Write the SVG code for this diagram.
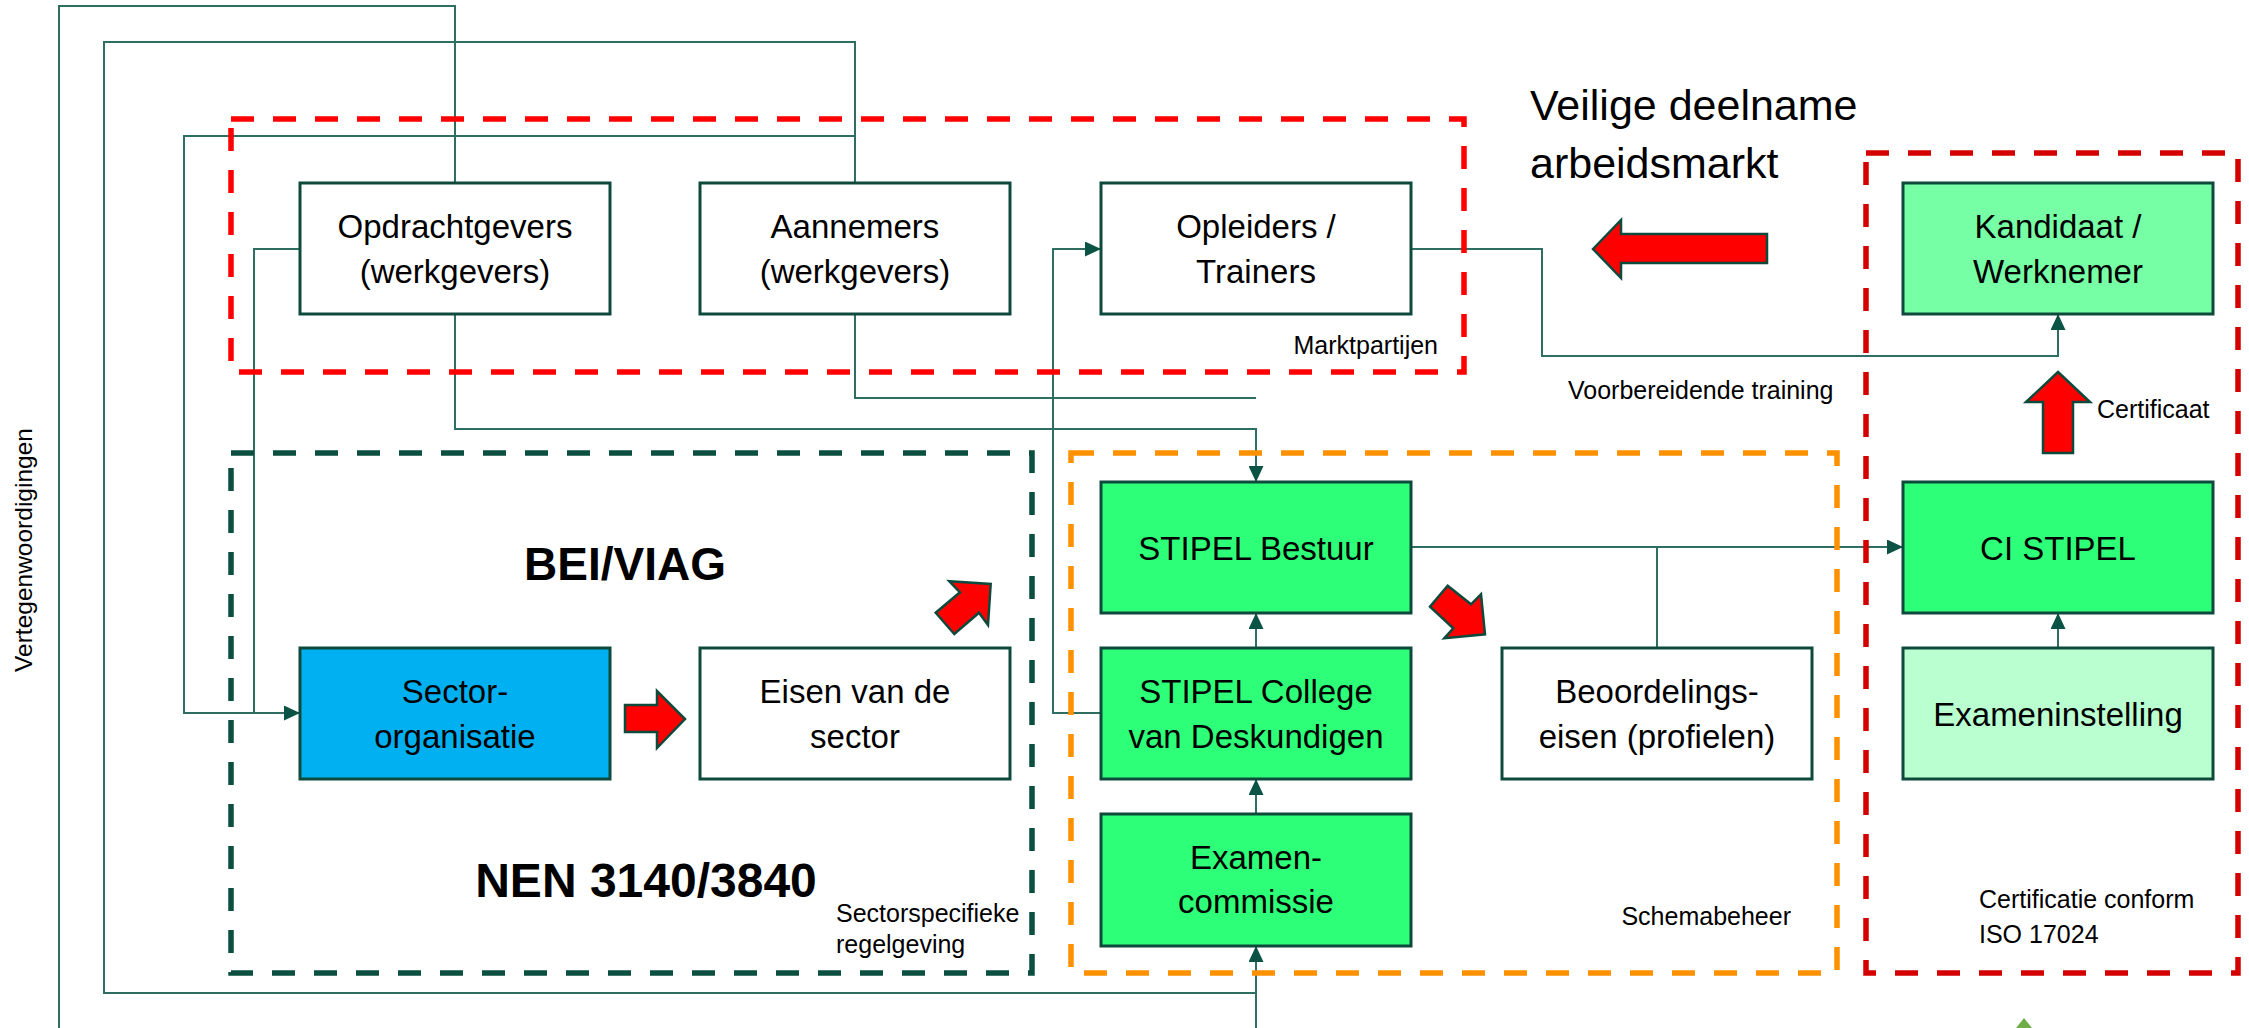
<svg xmlns="http://www.w3.org/2000/svg" width="2249" height="1028" viewBox="0 0 2249 1028">
  <style>
    .box { stroke: #0E4A3C; stroke-width: 3; }
    .white { fill: #FFFFFF; }
    .green { fill: #2EFF78; }
    .lgreen { fill: #77FFA6; }
    .mint { fill: #B9FFD0; }
    .blue { fill: #00B0F0; }
    .t { font-family: "Liberation Sans", Arial, sans-serif; font-size: 33px; fill: #000; text-anchor: middle; }
    .lbl { font-family: "Liberation Sans", Arial, sans-serif; font-size: 25px; fill: #000; }
    .big { font-family: "Liberation Sans", Arial, sans-serif; font-weight: bold; fill: #000; text-anchor: middle; }
    .title { font-family: "Liberation Sans", Arial, sans-serif; font-size: 43px; fill: #000; }
    .con { fill: none; stroke: #2F6E63; stroke-width: 2; }
    .grp { fill: none; stroke-width: 5.5; stroke-dasharray: 23 19; }
    .blk { fill: #FF0000; stroke: #0E4A3C; stroke-width: 2.5; stroke-linejoin: miter; }
  </style>
  <defs>
    <marker id="ah" markerWidth="16" markerHeight="15" refX="16" refY="7.5" orient="auto" markerUnits="userSpaceOnUse">
      <path d="M0,0 L16,7.5 L0,15 Z" fill="#0B5345"/>
    </marker>
  </defs>

  <rect width="2249" height="1028" fill="#FFFFFF"/>

  <!-- connectors -->
  <g id="connectors">
    <path class="con" d="M455,183 V6 H59 V1028"/>
    <path class="con" d="M855,183 V42 H104 V993 H1256"/>
    <path class="con" d="M1256,1028 V946" marker-end="url(#ah)"/>
    <path class="con" d="M855,136 H184 V713 H300" marker-end="url(#ah)"/>
    <path class="con" d="M300,249 H254 V713"/>
    <path class="con" d="M455,314 V429 H1256 V482" marker-end="url(#ah)"/>
    <path class="con" d="M855,314 V398 H1256"/>
    <path class="con" d="M1101,713 H1053 V249 H1101" marker-end="url(#ah)"/>
    <path class="con" d="M1411,249 H1542 V356 H2058 V314" marker-end="url(#ah)"/>
    <path class="con" d="M1411,547 H1903" marker-end="url(#ah)"/>
    <path class="con" d="M1657,648 V547"/>
    <path class="con" d="M1256,648 V613" marker-end="url(#ah)"/>
    <path class="con" d="M1256,814 V779" marker-end="url(#ah)"/>
    <path class="con" d="M2058,648 V613" marker-end="url(#ah)"/>
  </g>

  <!-- group frames -->
  <g id="group-marktpartijen">
    <rect class="grp" x="231" y="119" width="1233" height="253" stroke="#FF0000"/>
    <text class="lbl" x="1438" y="354" text-anchor="end">Marktpartijen</text>
  </g>
  <g id="group-sector">
    <rect class="grp" x="231" y="453" width="801" height="520" stroke="#0B4F40"/>
    <text class="lbl" x="836" y="922">Sectorspecifieke</text>
    <text class="lbl" x="836" y="953">regelgeving</text>
    <text class="big" x="625" y="580" font-size="46">BEI/VIAG</text>
    <text class="big" x="646" y="897" font-size="48">NEN 3140/3840</text>
  </g>
  <g id="group-schemabeheer">
    <rect class="grp" x="1071" y="453" width="766" height="520" stroke="#FF9100"/>
    <text class="lbl" x="1791" y="925" text-anchor="end">Schemabeheer</text>
  </g>
  <g id="group-certificatie">
    <rect class="grp" x="1866" y="153" width="372" height="820" stroke="#D40000"/>
    <text class="lbl" x="1979" y="908">Certificatie conform</text>
    <text class="lbl" x="1979" y="943">ISO 17024</text>
  </g>

  <!-- free labels -->
  <text class="title" x="1530" y="120">Veilige deelname</text>
  <text class="title" x="1530" y="178">arbeidsmarkt</text>
  <text class="lbl" x="1568" y="399">Voorbereidende training</text>
  <text class="lbl" x="2097" y="418">Certificaat</text>
  <text font-family="Liberation Sans, Arial, sans-serif" font-size="24.5" fill="#000" text-anchor="middle" transform="translate(32,550) rotate(-90)">Vertegenwoordigingen</text>

  <!-- block arrows -->
  <g id="block-arrows">
    <polygon class="blk" points="1593,249 1621,220 1621,234 1767,234 1767,263 1621,263 1621,278"/>
    <polygon class="blk" points="2058,372 2090,402 2073,402 2073,453 2043,453 2043,402 2026,402"/>
    <polygon class="blk" points="625,705 657,705 657,691 685,719 657,748 657,732 625,732"/>
    <polygon class="blk" points="990.7,584 988,625 979,612.7 954.3,634 935.7,612.7 960,592.3 949.3,581.3"/>
    <polygon class="blk" points="1447.7,585.7 1471,604.3 1481,594.3 1485,634.3 1444.3,638.3 1453.3,628.3 1430,606.7"/>
  </g>

  <!-- nodes -->
  <g id="opdrachtgevers">
    <rect class="box white" x="300" y="183" width="310" height="131"/>
    <text class="t" x="455" y="238">Opdrachtgevers</text>
    <text class="t" x="455" y="283">(werkgevers)</text>
  </g>
  <g id="aannemers">
    <rect class="box white" x="700" y="183" width="310" height="131"/>
    <text class="t" x="855" y="238">Aannemers</text>
    <text class="t" x="855" y="283">(werkgevers)</text>
  </g>
  <g id="opleiders">
    <rect class="box white" x="1101" y="183" width="310" height="131"/>
    <text class="t" x="1256" y="238">Opleiders /</text>
    <text class="t" x="1256" y="283">Trainers</text>
  </g>
  <g id="kandidaat">
    <rect class="box lgreen" x="1903" y="183" width="310" height="131"/>
    <text class="t" x="2058" y="238">Kandidaat /</text>
    <text class="t" x="2058" y="283">Werknemer</text>
  </g>
  <g id="stipel-bestuur">
    <rect class="box green" x="1101" y="482" width="310" height="131"/>
    <text class="t" x="1256" y="560">STIPEL Bestuur</text>
  </g>
  <g id="ci-stipel">
    <rect class="box green" x="1903" y="482" width="310" height="131"/>
    <text class="t" x="2058" y="560">CI STIPEL</text>
  </g>
  <g id="sector-organisatie">
    <rect class="box blue" x="300" y="648" width="310" height="131"/>
    <text class="t" x="455" y="703">Sector-</text>
    <text class="t" x="455" y="748">organisatie</text>
  </g>
  <g id="eisen-sector">
    <rect class="box white" x="700" y="648" width="310" height="131"/>
    <text class="t" x="855" y="703">Eisen van de</text>
    <text class="t" x="855" y="748">sector</text>
  </g>
  <g id="stipel-college">
    <rect class="box green" x="1101" y="648" width="310" height="131"/>
    <text class="t" x="1256" y="703">STIPEL College</text>
    <text class="t" x="1256" y="748">van Deskundigen</text>
  </g>
  <g id="beoordelingseisen">
    <rect class="box white" x="1502" y="648" width="310" height="131"/>
    <text class="t" x="1657" y="703">Beoordelings-</text>
    <text class="t" x="1657" y="748">eisen (profielen)</text>
  </g>
  <g id="exameninstelling">
    <rect class="box mint" x="1903" y="648" width="310" height="131"/>
    <text class="t" x="2058" y="726">Exameninstelling</text>
  </g>
  <g id="examencommissie">
    <rect class="box green" x="1101" y="814" width="310" height="132"/>
    <text class="t" x="1256" y="869">Examen-</text>
    <text class="t" x="1256" y="913">commissie</text>
  </g>

  <polygon points="2016,1028 2024,1018 2032,1028" fill="#70AD47"/>
</svg>
